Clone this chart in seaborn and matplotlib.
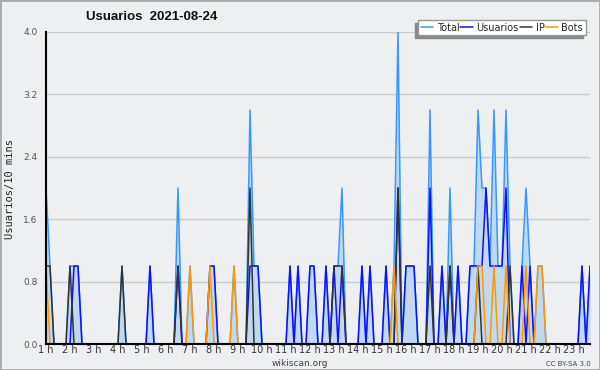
import pandas as pd
import matplotlib
matplotlib.use('Agg')
import matplotlib.pyplot as plt
import seaborn as sns
from matplotlib.ticker import MultipleLocator

# 10-minute slots, slot 0 = 01:00, last slot = 23:40
n_slots = 137
hour_labels = [f'{h} h' for h in range(1, 24)]

# non-zero values per slot (everything else is 0)
total_vals = {0: 2, 1: 1, 6: 1, 7: 1, 8: 1, 19: 1, 26: 1, 33: 2, 36: 1, 41: 1, 42: 1,
              47: 1, 51: 3, 52: 1, 53: 1, 61: 1, 63: 1, 66: 1, 67: 1, 70: 1, 72: 1,
              73: 1, 74: 2, 79: 1, 81: 1, 85: 1, 87: 1, 88: 4, 90: 1, 91: 1, 92: 1,
              96: 3, 99: 1, 101: 2, 103: 1, 106: 1, 107: 1, 108: 3, 109: 2, 110: 2,
              111: 1, 112: 3, 113: 1, 114: 1, 115: 3, 116: 1, 119: 1, 120: 2, 121: 1,
              123: 1, 124: 1, 134: 1, 136: 1}
usuarios_vals = {7: 1, 8: 1, 26: 1, 33: 1, 41: 1, 42: 1, 51: 1, 52: 1, 53: 1, 61: 1,
                 63: 1, 66: 1, 67: 1, 70: 1, 72: 1, 74: 1, 79: 1, 81: 1, 85: 1, 88: 2,
                 90: 1, 91: 1, 92: 1, 96: 2, 99: 1, 101: 1, 103: 1, 106: 1, 107: 1,
                 108: 1, 109: 1, 110: 2, 111: 1, 112: 1, 113: 1, 114: 1, 115: 2,
                 119: 1, 121: 1, 134: 1, 136: 1}
ip_vals = {0: 1, 1: 1, 6: 1, 19: 1, 33: 1, 51: 2, 72: 1, 73: 1, 74: 1, 88: 2, 96: 1,
           101: 1, 108: 1, 116: 1}
bots_vals = {0: 1, 36: 1, 41: 1, 47: 1, 87: 1, 108: 1, 109: 1, 112: 1, 115: 1,
             120: 1, 123: 1, 124: 1}

series = {'Total': total_vals, 'Usuarios': usuarios_vals, 'IP': ip_vals, 'Bots': bots_vals}
colors = {'Total': '#3399ff', 'Usuarios': '#1010ff', 'IP': '#333333', 'Bots': '#ff9900'}

df = pd.DataFrame({'slot': range(n_slots)})
for name, vals in series.items():
    df[name] = [vals.get(i, 0) for i in range(n_slots)]
long_df = df.melt(id_vars='slot', var_name='serie', value_name='value')

bg = '#eeeff1'
sns.set_style('white', {'axes.facecolor': bg, 'figure.facecolor': bg})

fig = plt.figure(figsize=(6, 3.7), dpi=100)
ax = fig.add_axes([46 / 600, 26 / 370, 544 / 600, 312 / 370])

ax.fill_between(df['slot'], df['Total'], color='#bdd7ee', alpha=0.9, lw=0)
sns.lineplot(data=long_df, x='slot', y='value', hue='serie', palette=colors,
             hue_order=list(series), linewidth=1.1, ax=ax, legend=False)

ax.set_xlim(0, n_slots - 1)
ax.set_ylim(0, 4.0)
ax.set_xlabel('')
ax.set_ylabel('')

ax.yaxis.set_major_locator(MultipleLocator(0.8))
ax.yaxis.set_minor_locator(MultipleLocator(0.2))
ax.set_yticklabels([f'{v:.1f}' for v in ax.get_yticks()])
ax.set_xticks(range(0, n_slots, 6))
ax.set_xticklabels(hour_labels)
ax.xaxis.set_minor_locator(MultipleLocator(1))
ax.tick_params(axis='both', which='both', direction='out', color='black', width=1)
ax.tick_params(axis='x', which='major', length=4, labelsize=7, pad=-3, labelcolor='#333333')
ax.tick_params(axis='x', which='minor', length=3)
ax.tick_params(axis='y', which='major', length=5, labelsize=6.5, pad=1, labelcolor='#555555')
ax.tick_params(axis='y', which='minor', length=4)
ax.yaxis.grid(True, color='#cccccc', linewidth=1)
ax.set_axisbelow(True)

for side in ['top', 'right']:
    ax.spines[side].set_visible(False)
for side in ['left', 'bottom']:
    ax.spines[side].set_color('black')
    ax.spines[side].set_linewidth(1.5)

fig.text(0.252, 0.955, 'Usuarios  2021-08-24', fontsize=9.5, fontweight='bold',
         family='Liberation Sans', ha='center', va='center', color='#111111')
fig.text(0.017, 0.49, 'Usuarios/10 mins', rotation=90, fontsize=7.5,
         family='DejaVu Sans Mono', ha='center', va='center', color='#222222')
fig.text(0.5, 0.018, 'wikiscan.org', fontsize=6.5, ha='center', va='center', color='#444444')
fig.text(0.985, 0.016, 'CC BY-SA 3.0', fontsize=5, ha='right', va='center', color='#444444')

handles = [plt.Line2D([], [], color=colors[k], lw=1.1) for k in series]
leg = fig.legend(handles, list(series), loc='upper right', bbox_to_anchor=(0.984, 0.958),
                 ncol=4, fontsize=7, handlelength=1.3, handletextpad=0.35,
                 columnspacing=0.1, borderpad=0.25, fancybox=False, framealpha=1,
                 facecolor='white', edgecolor='#999999',
                 shadow={'color': '#888888', 'alpha': 1, 'ox': -2, 'oy': -2})
leg.get_frame().set_linewidth(1)

fig.patches.append(plt.Rectangle((0, 0), 1, 1, transform=fig.transFigure, fill=False,
                                 edgecolor='#aaaaaa', linewidth=2))

fig.savefig('out.png', dpi=100, facecolor=bg)
